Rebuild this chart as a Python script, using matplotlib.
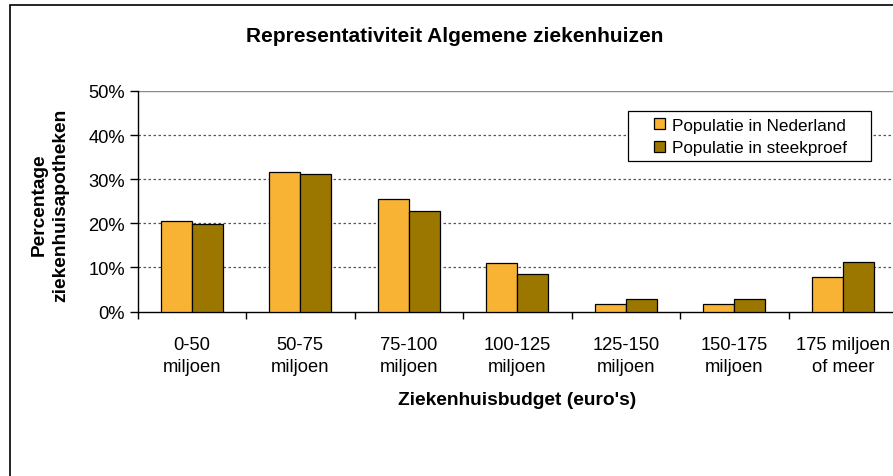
import matplotlib
matplotlib.use("Agg")
import matplotlib.pyplot as plt
import numpy as np
from matplotlib.patches import Rectangle

plt.rcParams['font.family'] = ['Liberation Sans', 'DejaVu Sans']

categories = ["0-50\nmiljoen", "50-75\nmiljoen", "75-100\nmiljoen", "100-125\nmiljoen",
              "125-150\nmiljoen", "150-175\nmiljoen", "175 miljoen\nof meer"]
nederland = [20.6, 31.7, 25.4, 11.1, 1.6, 1.6, 7.9]
steekproef = [19.8, 31.2, 22.7, 8.4, 2.8, 2.8, 11.3]
yticks = [0, 10, 20, 30, 40, 50]

W, H = 893, 477
fig = plt.figure(figsize=(W / 100, H / 100), dpi=100)

def fx(px):
    return px / W

def fy(py):
    return 1 - py / H

# outer chart frame
fig.patches.append(Rectangle((fx(10), -0.1), 2.0, fy(6) + 0.1, transform=fig.transFigure,
                             fill=False, edgecolor='black', linewidth=1.2))

left, right, top, bottom = 137.5, 897, 92, 312.5
ax = fig.add_axes([fx(left), fy(bottom), (right - left) / W, (bottom - top) / H])

x = np.arange(len(categories))
bw = 0.286
ax.bar(x - bw / 2, nederland, bw, color='#F8B334', edgecolor='black', linewidth=0.9,
       label='Populatie in Nederland', zorder=3)
ax.bar(x + bw / 2, steekproef, bw, color='#9B7700', edgecolor='black', linewidth=0.9,
       label='Populatie in steekproef', zorder=3)

fs = 13.2
ax.set_xlim(-0.5, len(categories) - 0.5)
ax.set_ylim(0, 50)
ax.set_yticks(yticks)
ax.set_yticklabels([f"{v}%" for v in yticks], fontsize=fs)
for v in yticks[1:-1]:
    ax.axhline(v, color='#555555', linestyle=(0, (2, 2)), linewidth=0.9, zorder=1)
ax.axhline(50, color='#888888', linewidth=1.0, zorder=1)

ax.set_xticks(x)
ax.set_xticklabels(categories, fontsize=fs, linespacing=1.32)
ax.set_xticks(np.arange(len(categories) + 1) - 0.5, minor=True)
ax.tick_params(axis='x', which='major', length=0, pad=18)
ax.tick_params(axis='x', which='minor', length=5, direction='out', width=1)
ax.tick_params(axis='y', length=6, direction='out', width=1, pad=3)

for s in ['top', 'right']:
    ax.spines[s].set_visible(False)
ax.spines['left'].set_linewidth(1)
ax.spines['bottom'].set_linewidth(1)

ax.set_xlabel("Ziekenhuisbudget (euro's)", fontsize=13.8, fontweight='bold', labelpad=12)

fig.text(fx(50), fy(205), "Percentage\nziekenhuisapotheken", rotation=90,
         ha='center', va='center', fontsize=13.8, fontweight='bold', linespacing=1.35)
fig.text(fx(455), fy(36), "Representativiteit Algemene ziekenhuizen",
         ha='center', va='center', fontsize=15, fontweight='bold')

# legend: frame drawn separately to match the wide side padding
fig.patches.append(Rectangle((fx(628), fy(162)), (871 - 628) / W, 50 / H, transform=fig.transFigure,
                             facecolor='white', edgecolor='black', linewidth=0.9, zorder=4))
leg = fig.legend(*ax.get_legend_handles_labels(), loc='center left',
                 bbox_to_anchor=(fx(654), fy(137.5)), bbox_transform=fig.transFigure,
                 fontsize=12.3, frameon=False, borderaxespad=0, borderpad=0,
                 handlelength=0.66, handleheight=0.66, handletextpad=0.38, labelspacing=0.45)
leg.set_zorder(5)

fig.savefig("out.png", dpi=100)
